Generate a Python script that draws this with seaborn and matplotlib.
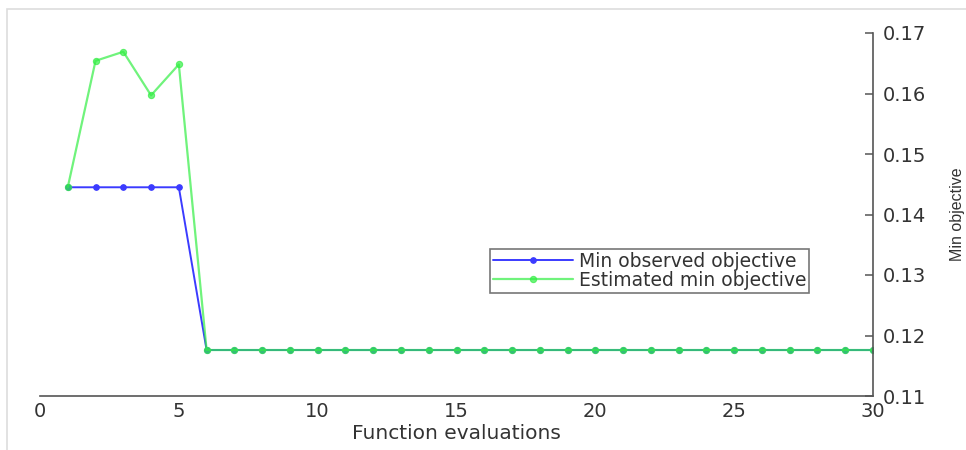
import matplotlib
matplotlib.use("Agg")
import matplotlib.pyplot as plt
from matplotlib.patches import Rectangle
import seaborn as sns

# Function evaluation index and the two traces
evals = list(range(1, 31))
min_observed = [0.1445, 0.1445, 0.1445, 0.1445, 0.1445,
                0.1176, 0.1176, 0.1176, 0.1176, 0.1176,
                0.1176, 0.1176, 0.1176, 0.1176, 0.1176,
                0.1176, 0.1176, 0.1176, 0.1176, 0.1176,
                0.1176, 0.1176, 0.1176, 0.1176, 0.1176,
                0.1176, 0.1176, 0.1176, 0.1176, 0.1176]
estimated_min = [0.1445, 0.1654, 0.1669, 0.1597, 0.1648,
                 0.1176, 0.1176, 0.1176, 0.1176, 0.1176,
                 0.1176, 0.1176, 0.1176, 0.1176, 0.1176,
                 0.1176, 0.1176, 0.1176, 0.1176, 0.1176,
                 0.1176, 0.1176, 0.1176, 0.1176, 0.1176,
                 0.1176, 0.1176, 0.1176, 0.1176, 0.1176]

x_ticks = [0, 5, 10, 15, 20, 25, 30]
y_ticks = [0.11, 0.12, 0.13, 0.14, 0.15, 0.16, 0.17]

sns.set_style("white")
plt.rcParams['font.family'] = ['DejaVu Sans']
text_col = '#333333'
spine_col = '#555555'
blue = '#3b3bff'
green = '#33ee44'

fig = plt.figure(figsize=(9.66, 4.5), dpi=100)
ax = fig.add_axes([40 / 966, 1 - 396 / 450, 833 / 966, 363 / 450])

sns.lineplot(x=evals, y=min_observed, ax=ax, color=blue, lw=1.4,
             marker='o', markersize=4, markeredgewidth=0.8,
             markeredgecolor=blue, label='Min observed objective')
sns.lineplot(x=evals, y=estimated_min, ax=ax, color=green, lw=1.6,
             alpha=0.7, marker='o', markersize=4.5, markeredgewidth=0.8,
             markeredgecolor=green, label='Estimated min objective')

ax.set_xlim(0, 30)
ax.set_ylim(0.11, 0.17)
ax.set_xticks(x_ticks)
ax.set_xticklabels([str(t) for t in x_ticks])
ax.set_yticks(y_ticks)
ax.set_yticklabels([f'{t:.2f}' for t in y_ticks])

# matlab-ish: y axis on the right, only bottom + right spines
ax.yaxis.tick_right()
ax.yaxis.set_label_position('right')
for s in ['top', 'left']:
    ax.spines[s].set_visible(False)
for s in ['bottom', 'right']:
    ax.spines[s].set_color(spine_col)
    ax.spines[s].set_linewidth(1.2)
ax.tick_params(axis='x', direction='in', length=4, width=1.1, color=spine_col,
               labelsize=14, labelcolor=text_col, pad=4)
ax.tick_params(axis='y', direction='in', length=6, width=1.1, color=spine_col,
               labelsize=14, labelcolor=text_col, pad=7)

ax.set_xlabel('Function evaluations', fontsize=14.5, color=text_col)
ax.xaxis.set_label_coords(0.5, -0.078)
ax.set_ylabel('Min objective', fontsize=11.5, color=text_col,
              family=['Liberation Sans', 'DejaVu Sans'])
ax.yaxis.set_label_coords((950 - 40) / 833, 0.5)

leg = ax.legend(loc='upper left', bbox_to_anchor=(0.54, 0.405),
                fontsize=13.5, frameon=True, fancybox=False,
                handlelength=4.3, handletextpad=0.3, labelspacing=0.0,
                borderpad=0.15, borderaxespad=0, numpoints=1)
leg.get_frame().set_edgecolor(spine_col)
leg.get_frame().set_linewidth(1.2)
for t in leg.get_texts():
    t.set_color(text_col)

# faint screenshot border
fig.patches.append(Rectangle((7 / 966, -0.1), 1.2, 1.08,
                             transform=fig.transFigure, fill=False,
                             edgecolor='#dddddd', lw=1.2))

fig.savefig('out.png', dpi=100)
